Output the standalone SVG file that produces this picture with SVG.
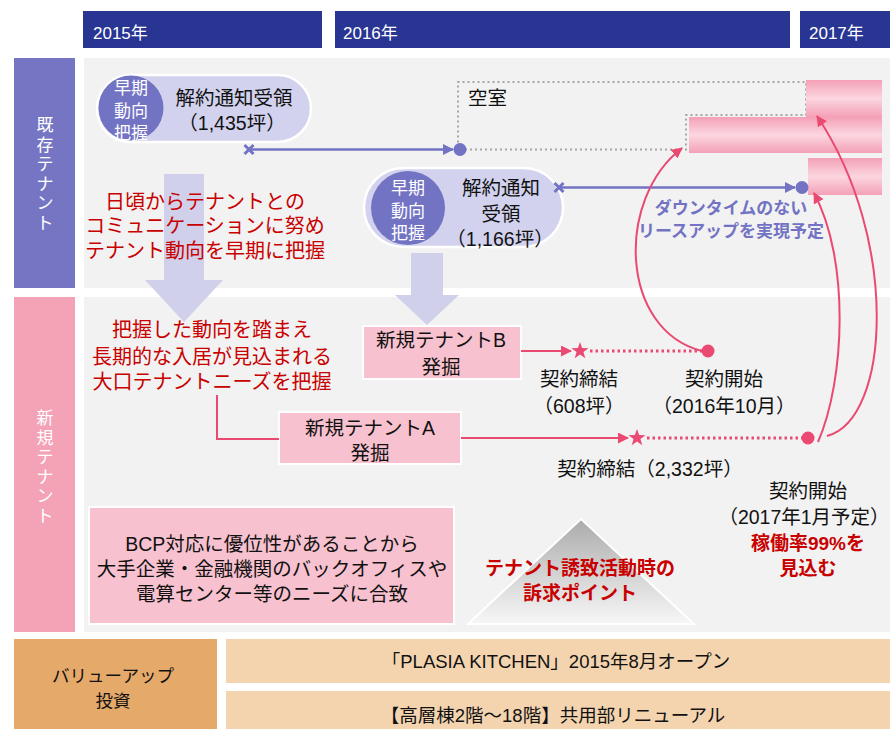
<svg xmlns="http://www.w3.org/2000/svg" width="890" height="729" viewBox="0 0 890 729">
<defs>
<style>
text{font-family:"Liberation Sans","Noto Sans CJK JP",sans-serif;}
.c{text-anchor:middle}
.k{fill:#111;font-size:19.5px}
.r{fill:#C80000;font-size:20px}
.rb{fill:#C80000;font-size:19px;font-weight:bold}
.pb{fill:#7373C4;font-size:17px;font-weight:bold}
.w{fill:#fff}
.hd{fill:#fff;font-size:17px}
.pl{stroke:#7373C4;stroke-width:2.5;fill:none}
.xm{stroke:#7373C4;stroke-width:3;fill:none}
.pk{stroke:#EA4A72;stroke-width:2;fill:none}
.dot{stroke:#A6A6A6;stroke-width:2;stroke-dasharray:2 3;fill:none}
.pkd{stroke:#EA4A72;stroke-width:3;stroke-dasharray:2.5 3;fill:none}
.box{fill:#F8C1CF;stroke:#fff;stroke-width:2}
.pill{fill:#D2D2EE;stroke:#fff;stroke-width:2.5}
.lav{fill:#D0D0EB}
.bar{fill:url(#pg)}
</style>
<linearGradient id="pg" x1="0" y1="0" x2="0" y2="1">
<stop offset="0" stop-color="#F4A0B6"/><stop offset="0.5" stop-color="#FBD6E0"/><stop offset="1" stop-color="#F4A0B6"/>
</linearGradient>
<linearGradient id="tg" x1="0" y1="0" x2="0" y2="1">
<stop offset="0" stop-color="#ABABAB"/><stop offset="1" stop-color="#F7F7F7"/>
</linearGradient>
<marker id="ap" markerWidth="11" markerHeight="11" refX="10" refY="5.5" orient="auto" markerUnits="userSpaceOnUse"><path d="M0,0 L11,5.5 L0,11 Z" fill="#7373C4"/></marker>
<marker id="ar" markerWidth="11" markerHeight="11" refX="10" refY="5.5" orient="auto" markerUnits="userSpaceOnUse"><path d="M0,0 L11,5.5 L0,11 Z" fill="#EA4A72"/></marker>
<path id="star" d="M0,-9 L2.12,-2.91 L8.56,-2.78 L3.42,1.11 L5.29,7.28 L0,3.6 L-5.29,7.28 L-3.42,1.11 L-8.56,-2.78 L-2.12,-2.91 Z" fill="#EA4A72"/>
</defs>

<rect width="890" height="729" fill="#fff"/>

<g id="header">
<rect x="83" y="11" width="239" height="37" fill="#283593"/>
<rect x="335" y="11" width="455" height="37" fill="#283593"/>
<rect x="800" y="11" width="90" height="37" fill="#283593"/>
<text class="hd" x="93" y="39">2015年</text>
<text class="hd" x="343" y="39">2016年</text>
<text class="hd" x="809" y="39">2017年</text>
</g>

<g id="lane-existing">
<rect x="14" y="58" width="61" height="230" fill="#7575C4"/>
<rect x="84" y="58" width="806" height="230" fill="#F2F2F2"/>
<text class="w c" font-size="17" x="45" y="131">既<tspan x="45" dy="19.6">存</tspan><tspan x="45" dy="19.6">テ</tspan><tspan x="45" dy="19.6">ナ</tspan><tspan x="45" dy="19.6">ン</tspan><tspan x="45" dy="19.6">ト</tspan></text>
</g>

<g id="lane-new">
<rect x="14" y="297" width="61" height="335" fill="#F4A2B6"/>
<rect x="84" y="297" width="806" height="335" fill="#F2F2F2"/>
<text class="w c" font-size="17" x="45" y="424">新<tspan x="45" dy="19.6">規</tspan><tspan x="45" dy="19.6">テ</tspan><tspan x="45" dy="19.6">ナ</tspan><tspan x="45" dy="19.6">ン</tspan><tspan x="45" dy="19.6">ト</tspan></text>
</g>

<g id="vacancy">
<path class="dot" d="M460,149.5 H686 V115 H806 V82 H458 V149.5"/>
<text class="k" x="468" y="105">空室</text>
</g>

<g id="pink-bars">
<rect class="bar" x="806" y="80" width="76" height="37"/>
<rect class="bar" x="689" y="117" width="193" height="36"/>
<rect class="bar" x="808" y="158" width="74" height="37"/>
</g>

<g id="big-arrow-1">
<polygon class="lav" points="164,174 204,174 204,280 223,280 184,322 145,280 164,280"/>
</g>
<g id="big-arrow-2">
<polygon class="lav" points="411,253 443,253 443,295 459,295 427,325 395,295 411,295"/>
</g>

<g id="notice-1">
<rect class="pill" x="97" y="75" width="214" height="67" rx="33.5"/>
<circle cx="131" cy="108" r="32.5" fill="#7373C4"/>
<text class="w c" font-size="17" x="131" y="94">早期<tspan x="131" dy="22.5">動向</tspan><tspan x="131" dy="22.5">把握</tspan></text>
<text class="k c" x="234" y="105">解約通知受領</text>
<text class="k c" x="232" y="130">（1,435坪）</text>
</g>

<g id="notice-2">
<rect class="pill" x="364" y="168" width="199" height="79" rx="39.5"/>
<circle cx="408" cy="208" r="37" fill="#7373C4"/>
<text class="w c" font-size="17" x="408" y="194">早期<tspan x="408" dy="22.5">動向</tspan><tspan x="408" dy="22.5">把握</tspan></text>
<text class="k c" x="501" y="195">解約通知</text>
<text class="k c" x="501" y="221">受領</text>
<text class="k c" x="500" y="246">（1,166坪）</text>
</g>

<g id="note-communication">
<text class="r c" x="205" y="209">日頃からテナントとの</text>
<text class="r c" x="205" y="233">コミュニケーションに努め</text>
<text class="r c" x="205" y="258">テナント動向を早期に把握</text>
</g>

<g id="note-downtime">
<text class="pb c" x="731" y="214">ダウンタイムのない</text>
<text class="pb c" x="731" y="237">リースアップを実現予定</text>
</g>

<g id="note-needs">
<text class="r c" x="212" y="337">把握した動向を踏まえ</text>
<text class="r c" x="212" y="364">長期的な入居が見込まれる</text>
<text class="r c" x="212" y="389">大口テナントニーズを把握</text>
</g>

<g id="tenant-b">
<rect class="box" x="363" y="326" width="158" height="53"/>
<text class="k c" x="441" y="347">新規テナントB</text>
<text class="k c" x="441" y="374">発掘</text>
</g>

<g id="tenant-a">
<rect class="box" x="279" y="412" width="182" height="52"/>
<text class="k c" x="370" y="435">新規テナントA</text>
<text class="k c" x="370" y="460">発掘</text>
</g>

<g id="bcp">
<rect class="box" x="89" y="507" width="365" height="117"/>
<text class="k c" x="272" y="551">BCP対応に優位性があることから</text>
<text class="k c" x="272" y="576">大手企業・金融機関のバックオフィスや</text>
<text class="k c" x="272" y="601">電算センター等のニーズに合致</text>
</g>

<g id="appeal">
<polygon points="581,519 694,624 468,624" fill="url(#tg)" stroke="#fff" stroke-width="2"/>
<text class="rb c" x="580" y="575">テナント誘致活動時の</text>
<text class="rb c" x="580" y="600">訴求ポイント</text>
</g>

<g id="labels-b">
<text class="k c" x="579" y="386">契約締結</text>
<text class="k c" x="579" y="413">（608坪）</text>
<text class="k c" x="724" y="386">契約開始</text>
<text class="k c" x="724" y="413">（2016年10月）</text>
</g>

<g id="labels-a">
<text class="k c" x="808" y="498">契約開始</text>
<text class="k c" font-size="17.5" x="804" y="524">（2017年1月予定）</text>
<text class="k c" x="650" y="476">契約締結（2,332坪）</text>
<text class="rb c" x="808" y="550">稼働率99%を</text>
<text class="rb c" x="808" y="575">見込む</text>
</g>

<g id="connectors">
<path class="pl" d="M249,149.5 H453" marker-end="url(#ap)"/>
<circle cx="460" cy="149.5" r="6.5" fill="#7373C4"/>
<path class="xm" d="M244.5,145 L253.5,154 M253.5,145 L244.5,154"/>
<path class="pl" d="M559,187.5 H795" marker-end="url(#ap)"/>
<circle cx="802" cy="187.5" r="6.5" fill="#7373C4"/>
<path class="xm" d="M554.5,183 L563.5,192 M563.5,183 L554.5,192"/>

<path class="pk" d="M217,395 V439 H279"/>
<path class="pk" d="M521,351 H571" marker-end="url(#ar)"/>
<use href="#star" x="580" y="351"/>
<path class="pkd" d="M590,351 H702"/>
<circle cx="708" cy="351" r="6.5" fill="#EA4A72"/>
<path class="pk" d="M461,438 H628" marker-end="url(#ar)"/>
<use href="#star" x="637" y="438"/>
<path class="pkd" d="M647,438 H802"/>
<circle cx="808" cy="438" r="6.5" fill="#EA4A72"/>

<path class="pk" d="M702,351 C620,330 615,200 682,148" marker-end="url(#ar)"/>
<path class="pk" d="M818,442 C845,380 850,260 814,193" marker-end="url(#ar)"/>
<path class="pk" d="M827,436 C890,420 900,240 817,116" marker-end="url(#ar)"/>
</g>

<g id="value-up">
<rect x="14" y="639" width="203" height="90" fill="#E5A96A"/>
<rect x="226" y="639" width="664" height="44" fill="#F3D4AF"/>
<rect x="226" y="691" width="664" height="38" fill="#F3D4AF"/>
<text class="c" fill="#111" font-size="17.5" x="113" y="682">バリューアップ</text>
<text class="c" fill="#111" font-size="17.5" x="113" y="707">投資</text>
<text class="c" fill="#111" font-size="18.5" x="556" y="668">「PLASIA KITCHEN」2015年8月オープン</text>
<text class="c" fill="#111" font-size="18.5" x="553" y="722">【高層棟2階～18階】共用部リニューアル</text>
</g>
</svg>
